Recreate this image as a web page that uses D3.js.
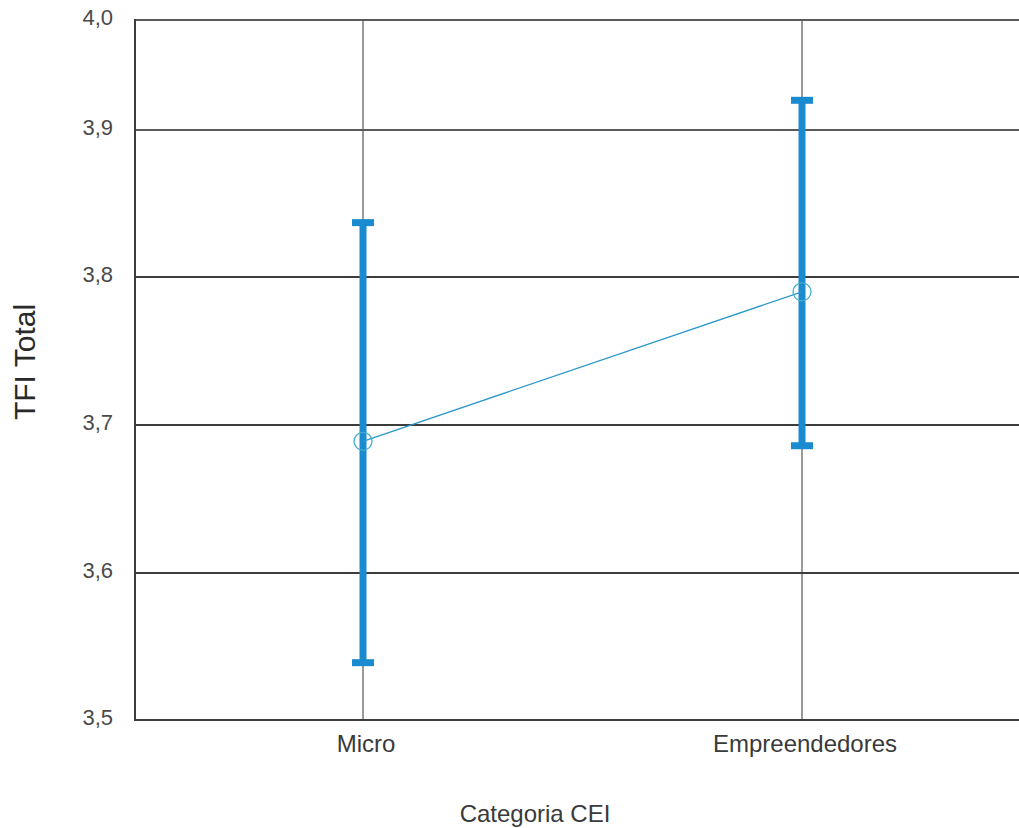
<!DOCTYPE html>
<html>
<head>
<meta charset="utf-8">
<script src="https://cdn.jsdelivr.net/npm/d3@7"></script>
<style>
  html, body { margin: 0; padding: 0; background: #fff; }
  svg { display: block; font-family: "Liberation Sans", Arial, Helvetica, sans-serif; }
</style>
</head>
<body>
<svg id="chart" width="1019" height="828"></svg>
<script>
// Group means with 95% confidence intervals for TFI Total
const categories = ["Micro", "Empreendedores"];
const means = [3.689, 3.790];
const lower = [3.539, 3.686];
const upper = [3.837, 3.927];
const yTicks = [3.5, 3.6, 3.7, 3.8, 3.9, 4.0];
const yTickLabels = ["3,5", "3,6", "3,7", "3,8", "3,9", "4,0"];

const svg = d3.select("#chart");
const plotLeft = 135, plotRight = 1019, plotTop = 20, plotBottom = 720;

const x = d3.scalePoint()
  .domain(categories)
  .range([143.5, 1021.5])
  .padding(0.5);

// Axis positions of each tick value (upper band is drawn slightly shorter)
const y = d3.scaleLinear()
  .domain(yTicks)
  .range([720, 573, 425, 277, 130, 20]);

// Vertical reference lines at each category
svg.append("g")
  .selectAll("line")
  .data(categories)
  .join("line")
  .attr("x1", d => x(d)).attr("x2", d => x(d))
  .attr("y1", plotTop).attr("y2", plotBottom)
  .attr("stroke", "#9a9a9a")
  .attr("stroke-width", 2);

// Horizontal grid lines
svg.append("g")
  .selectAll("line")
  .data(yTicks)
  .join("line")
  .attr("x1", plotLeft).attr("x2", plotRight)
  .attr("y1", d => y(d)).attr("y2", d => y(d))
  .attr("stroke", d => d === 3.9 || d === 4.0 ? "#5a5a5a" : "#3c3c3c")
  .attr("stroke-width", 2);

// Left axis line
svg.append("line")
  .attr("x1", plotLeft).attr("x2", plotLeft)
  .attr("y1", plotTop - 1).attr("y2", plotBottom + 1)
  .attr("stroke", "#3c3c3c")
  .attr("stroke-width", 2);

// Y tick labels
svg.append("g")
  .selectAll("text")
  .data(yTicks)
  .join("text")
  .attr("x", 113)
  .attr("y", d => y(d) - 3)
  .attr("dy", "0.35em")
  .attr("text-anchor", "end")
  .attr("font-size", 22)
  .attr("fill", "#4a4a4a")
  .text((d, i) => yTickLabels[i]);

// Category labels
svg.append("g")
  .selectAll("text")
  .data(categories)
  .join("text")
  .attr("x", d => x(d) + 3)
  .attr("y", 752)
  .attr("text-anchor", "middle")
  .attr("font-size", 24)
  .attr("fill", "#3a3a3a")
  .text(d => d);

// Axis titles
svg.append("text")
  .attr("x", 535).attr("y", 822)
  .attr("text-anchor", "middle")
  .attr("font-size", 24)
  .attr("fill", "#3a3a3a")
  .text("Categoria CEI");

svg.append("text")
  .attr("transform", `translate(35, 362) rotate(-90)`)
  .attr("text-anchor", "middle")
  .attr("font-size", 30)
  .attr("fill", "#2a2a2a")
  .text("TFI Total");

// Error bars
const data = categories.map((c, i) => ({ c, m: means[i], lo: lower[i], hi: upper[i] }));
const blue = "#1b8bd0";
const bars = svg.append("g");
bars.selectAll("line.ci")
  .data(data)
  .join("line")
  .attr("class", "ci")
  .attr("x1", d => x(d.c)).attr("x2", d => x(d.c))
  .attr("y1", d => y(d.lo)).attr("y2", d => y(d.hi))
  .attr("stroke", blue)
  .attr("stroke-width", 7);

const caps = data.flatMap(d => [{ c: d.c, v: d.lo }, { c: d.c, v: d.hi }]);
bars.selectAll("line.cap")
  .data(caps)
  .join("line")
  .attr("class", "cap")
  .attr("x1", d => x(d.c) - 11).attr("x2", d => x(d.c) + 11)
  .attr("y1", d => y(d.v)).attr("y2", d => y(d.v))
  .attr("stroke", blue)
  .attr("stroke-width", 7);

// Line joining the means
svg.append("path")
  .datum(data)
  .attr("fill", "none")
  .attr("stroke", "#2a96cc")
  .attr("stroke-width", 1.3)
  .attr("d", d3.line().x(d => x(d.c)).y(d => y(d.m)));

// Mean markers
svg.append("g")
  .selectAll("circle")
  .data(data)
  .join("circle")
  .attr("cx", d => x(d.c))
  .attr("cy", d => y(d.m))
  .attr("r", 9)
  .attr("fill", "none")
  .attr("stroke", "#45b0c8")
  .attr("stroke-width", 1.3);
</script>
</body>
</html>
